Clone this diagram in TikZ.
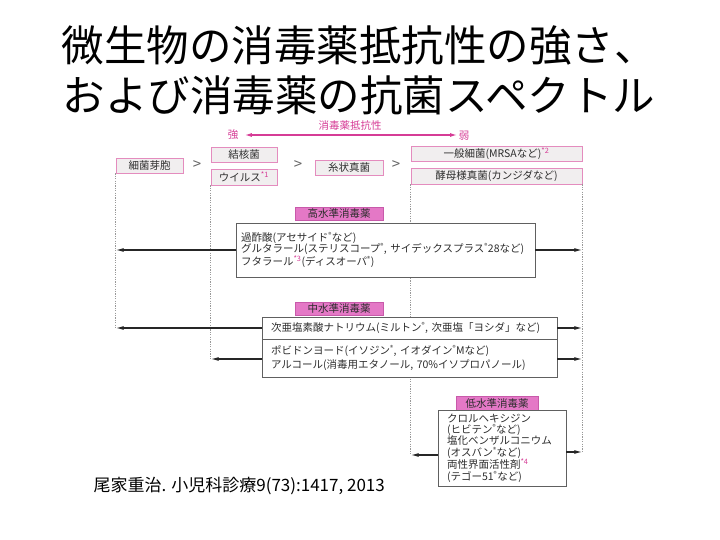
\documentclass[tikz,border=0pt]{standalone}
\usepackage{fontspec}
\setmainfont{Noto Sans CJK JP}
\usetikzlibrary{arrows.meta}
\definecolor{pk}{RGB}{214,60,150}
\definecolor{pkline}{RGB}{228,140,190}
\definecolor{pkfill}{RGB}{228,120,198}
\definecolor{pkdraw}{RGB}{200,90,170}
\definecolor{grayfill}{RGB}{241,238,239}
\definecolor{txt}{RGB}{45,45,45}
\newcommand{\mk}[1]{\textcolor{pk}{\textsuperscript{*#1}}}
\newcommand{\rg}{\textsuperscript{\fontsize{6.5}{6.5}\selectfont ®}}
\tikzset{
  orgbox/.style={draw=pkline, fill=grayfill, line width=0.7pt, inner sep=0pt, text=txt,
    font=\fontsize{10.5}{12}\selectfont},
  lvlbox/.style={draw=pkdraw, fill=pkfill, line width=0.5pt, inner sep=0pt, text=txt,
    minimum width=88pt, minimum height=13pt, font=\fontsize{10.5}{12}\selectfont},
  drugbox/.style={draw=gray!75!black, fill=white, line width=0.7pt, inner sep=0pt, text=txt,
    align=left, font=\fontsize{10.5}{11.7}\selectfont},
  guide/.style={draw=gray!80, line width=0.5pt, dash pattern=on 1.2pt off 1.2pt},
  arr/.style={draw=black!85, line width=1.3pt, -{Latex[length=8pt,width=4pt]}},
  gt/.style={text=gray!80!black, font=\fontsize{15}{15}\selectfont},
  pklabel/.style={text=pk, font=\fontsize{10.5}{12}\selectfont}
}
\begin{document}
\begin{tikzpicture}[x=1pt,y=-1pt]
\useasboundingbox (0,0) rectangle (720,540);
\fill[white] (0,0) rectangle (720,540);
% title
\node[font=\fontsize{42.5}{42.5}\selectfont] (t1) at (359,45) {微生物の消毒薬抵抗性の強さ、};
\node[font=\fontsize{42.5}{42.5}\selectfont] (t2) at (359,95) {および消毒薬の抗菌スペクトル};
% resistance axis
\node[pklabel] (res) at (350,126) {消毒薬抵抗性};
\node[pklabel] (strong) at (233,135) {強};
\node[pklabel] (weak) at (464,136) {弱};
\draw[draw=pk, line width=1.2pt, {Latex[length=7pt,width=4pt]}-{Latex[length=7pt,width=4pt]}]
  (strong.east) ++(3,0) -- (457,135);
% organism boxes
\node[orgbox, minimum width=67pt, minimum height=15pt] (spore) at (149.5,165.5) {細菌芽胞};
\node[orgbox, minimum width=66pt, minimum height=15pt] (tb) at (244,154.5) {結核菌};
\node[orgbox, minimum width=66pt, minimum height=16pt] (virus) at (244,177) {ウイルス\mk{1}};
\node[orgbox, minimum width=68pt, minimum height=15pt] (mold) at (349,167.5) {糸状真菌};
\node[orgbox, minimum width=171pt, minimum height=15pt] (bact) at (496.5,153.5) {一般細菌(MRSAなど)\mk{2}};
\node[orgbox, minimum width=171pt, minimum height=16pt] (yeast) at (496.5,176) {酵母様真菌(カンジダなど)};
\node[gt] (g1) at (197,165) {>};
\node[gt] (g2) at (298,165) {>};
\node[gt] (g3) at (396,165) {>};
% guide coordinates
\coordinate (ymid1) at (0,328);
\coordinate (ymid2) at (0,359);
\coordinate (ylow) at (0,455);
\coordinate (ylowr) at (0,452);
% guides
\draw[guide] (spore.south west) -- (spore.south west |- ymid1);
\draw[guide] (virus.south west) -- (virus.south west |- ymid2);
\draw[guide] (yeast.south west) -- (yeast.south west |- ylow);
\draw[guide] (yeast.south east) -- (yeast.south east |- ylowr);
% high level
\node[lvlbox] (hiL) at (339,213.5) {高水準消毒薬};
\node[drugbox, minimum width=299pt, minimum height=54pt, text width=289pt] (hi) at (385.5,250)
  {過酢酸(アセサイド\rg など)\\
   グルタラール(ステリスコープ\rg, サイデックスプラス\rg 28など)\\
   フタラール\mk{3}(ディスオーパ\rg)};
% mid level
\node[lvlbox] (midL) at (339,308.5) {中水準消毒薬};
\node[drugbox, minimum width=295pt, minimum height=22pt, text width=277pt] (mid1) at (409.5,328)
  {次亜塩素酸ナトリウム(ミルトン\rg, 次亜塩「ヨシダ」など)};
\node[drugbox, minimum width=295pt, minimum height=38pt, text width=277pt,
  font=\fontsize{10.5}{14.5}\selectfont] (mid2) at (409.5,358)
  {ポビドンヨード(イソジン\rg, イオダイン\rg Mなど)\\
   アルコール(消毒用エタノール, 70\%イソプロパノール)};
% low level
\node[lvlbox, minimum width=82pt, minimum height=14pt] (lowL) at (497,403) {低水準消毒薬};
\node[drugbox, minimum width=128pt, minimum height=76pt, text width=110pt,
  font=\fontsize{10.5}{11.3}\selectfont] (low) at (502,448)
  {クロルヘキシジン\\(ヒビテン\rg など)\\塩化ベンザルコニウム\\(オスバン\rg など)\\両性界面活性剤\mk{4}\\(テゴー51\rg など)};
% arrows
\draw[arr] (hi.west) -- (hi.west -| spore.west);
\draw[arr] (hi.east) -- (hi.east -| yeast.east);
\draw[arr] (mid1.west |- ymid1) -- (spore.west |- ymid1);
\draw[arr] (mid1.east |- ymid1) -- (yeast.east |- ymid1);
\draw[arr] (mid2.west |- ymid2) -- (virus.west |- ymid2);
\draw[arr] (mid2.east |- ymid2) -- (yeast.east |- ymid2);
\draw[arr] (low.west |- ylow) -- (yeast.west |- ylow);
\draw[arr] (low.east |- ylowr) -- (yeast.east |- ylowr);
% reference
\node[anchor=west, font=\fontsize{17}{17}\selectfont] (ref) at (90,486) {尾家重治. 小児科診療9(73):1417, 2013};
\end{tikzpicture}
\end{document}
